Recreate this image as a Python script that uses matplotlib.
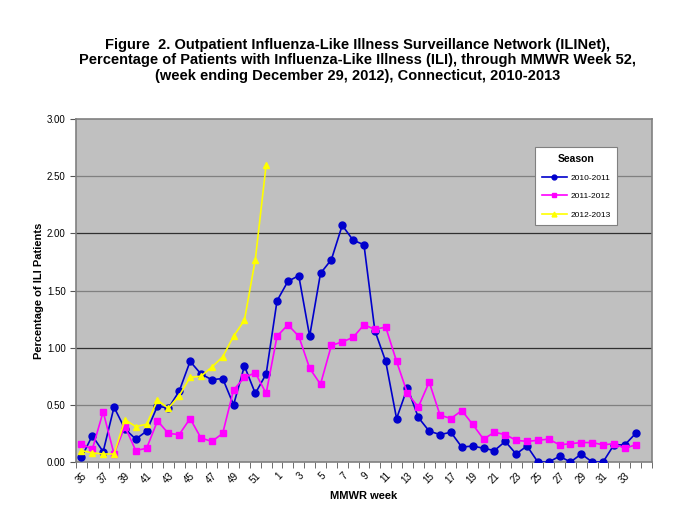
import matplotlib
matplotlib.use("Agg")
import matplotlib.pyplot as plt
import numpy as np

plt.rcParams["font.family"] = ["Liberation Sans", "DejaVu Sans"]

# MMWR weeks 35..52 then 1..34
weeks = list(range(35, 53)) + list(range(1, 35))

ili_2010_2011 = [0.04, 0.23, 0.09, 0.48, 0.29, 0.20, 0.27, 0.49, 0.47, 0.62,
                 0.88, 0.77, 0.72, 0.73, 0.50, 0.84, 0.60, 0.77, 1.41, 1.58,
                 1.63, 1.10, 1.65, 1.77, 2.07, 1.94, 1.90, 1.15, 0.88, 0.38,
                 0.65, 0.39, 0.27, 0.24, 0.26, 0.13, 0.14, 0.12, 0.10, 0.18,
                 0.07, 0.14, 0.00, 0.00, 0.05, 0.00, 0.07, 0.00, 0.00, 0.15,
                 0.15, 0.25]
ili_2011_2012 = [0.16, 0.11, 0.44, 0.07, 0.31, 0.10, 0.12, 0.36, 0.25, 0.24,
                 0.38, 0.21, 0.18, 0.25, 0.63, 0.74, 0.78, 0.60, 1.10, 1.20,
                 1.10, 0.82, 0.68, 1.02, 1.05, 1.09, 1.20, 1.16, 1.18, 0.88,
                 0.60, 0.48, 0.70, 0.41, 0.38, 0.45, 0.33, 0.20, 0.26, 0.24,
                 0.19, 0.18, 0.19, 0.20, 0.15, 0.16, 0.17, 0.17, 0.15, 0.16,
                 0.12, 0.15]
ili_2012_2013 = [0.10, 0.08, 0.07, 0.07, 0.37, 0.31, 0.33, 0.54, 0.47, 0.58,
                 0.74, 0.75, 0.83, 0.92, 1.10, 1.24, 1.77, 2.60]

seasons = ["2010-2011", "2011-2012", "2012-2013"]

fig = plt.figure(figsize=(6.87, 5.11), dpi=100)
ax = fig.add_axes([0.1106, 0.0959, 0.8384, 0.6712])
ax.set_facecolor("#c0c0c0")

x = np.arange(len(weeks))
ax.plot(x, ili_2010_2011, color="#0000cc", marker="o", markersize=5, lw=1.2, label=seasons[0], zorder=3)
ax.plot(x, ili_2011_2012, color="#ff00ff", marker="s", markersize=5, lw=1.2, label=seasons[1], zorder=3)
ax.plot(x[:len(ili_2012_2013)], ili_2012_2013, color="#ffff00", marker="^", markersize=5, lw=1.2,
        label=seasons[2], zorder=4)

ax.set_ylim(0, 3.0)
ax.set_xlim(-0.5, len(weeks) + 0.5)
yt = np.arange(0, 3.01, 0.5)
ax.set_yticks(yt)
ax.set_yticklabels([f"{v:.2f}" for v in yt], fontsize=7)
for v in yt[1:-1]:
    c = "#303030" if abs(v - round(v)) < 1e-6 else "#808080"
    ax.axhline(v, color=c, lw=0.9, zorder=1)

ax.set_xticks(x[::2])
ax.set_xticklabels([str(w) for w in weeks[::2]], rotation=45, fontsize=7, ha="right",
                   rotation_mode="anchor")
ax.set_xticks(np.arange(-0.5, len(weeks) + 1, 1), minor=True)
ax.tick_params(axis="x", which="major", length=0, pad=6)
ax.tick_params(axis="x", which="minor", length=4, direction="out", color="#555555")
ax.tick_params(axis="y", length=4, direction="out", color="#555555")

for s in ax.spines.values():
    s.set_color("#808080")
    s.set_linewidth(1.2)

ax.set_ylabel("Percentage of ILI Patients", fontsize=8, fontweight="bold", labelpad=2)
ax.set_xlabel("MMWR week", fontsize=8, fontweight="bold", labelpad=4)

leg = ax.legend(title="Season", loc="upper left", bbox_to_anchor=(0.79, 0.93), fontsize=6,
                title_fontproperties={"weight": "bold", "size": 7.5}, fancybox=False,
                framealpha=1, edgecolor="#808080", labelspacing=1.25, borderpad=0.8,
                handlelength=3.0, handletextpad=0.4, markerscale=0.7)
leg.get_frame().set_linewidth(0.8)

fig.text(0.52, 0.882, "Figure  2. Outpatient Influenza-Like Illness Surveillance Network (ILINet),\n"
         "Percentage of Patients with Influenza-Like Illness (ILI), through MMWR Week 52,\n"
         "(week ending December 29, 2012), Connecticut, 2010-2013",
         ha="center", va="center", fontsize=10.5, fontweight="bold", linespacing=1.15)

fig.savefig("out.png", dpi=100, facecolor="white")
